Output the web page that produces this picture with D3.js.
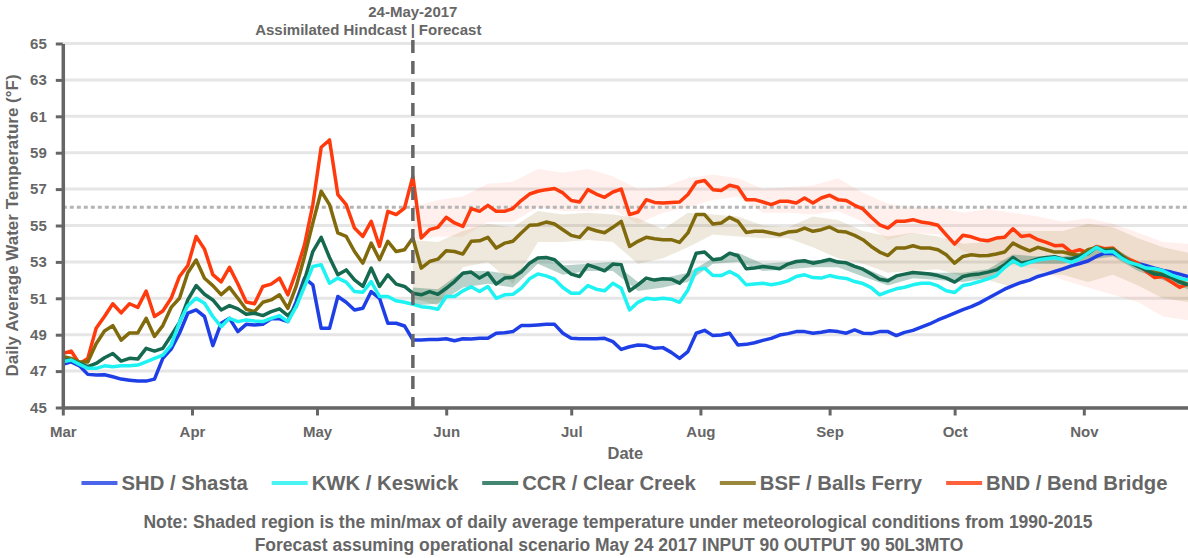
<!DOCTYPE html>
<html>
<head>
<meta charset="utf-8">
<script src="https://cdn.jsdelivr.net/npm/d3@7"></script>
<style>
  body { margin: 0; background: #fff; }
  svg text { font-family: "Liberation Sans", Arial, Helvetica, sans-serif; font-weight: bold; fill: #666; }
</style>
</head>
<body>
<svg id="chart" width="1188" height="558"></svg>
<script>

// ---- data (one value every 2 days from 1-Mar-2017) ----
var startDay = "2017-03-01", endDay = "2017-11-26", forecastDay = "2017-05-24";
var lineStep = 2, bandStep = 6;

var shd = [47.37, 47.51, 47.29, 46.82, 46.78, 46.8, 46.69, 46.56, 46.5, 46.45, 46.45, 46.56, 47.7, 48.21, 49.08, 50.18, 50.36, 50.0, 48.4, 49.63, 49.9, 49.17, 49.57,
           49.53, 49.57, 49.87, 49.87, 49.72, 50.82, 52.11, 51.74, 49.35, 49.35, 51.1, 50.78, 50.36, 50.45, 51.37, 51.0, 49.63, 49.63, 49.48, 48.71, 48.71, 48.73,
           48.73, 48.78, 48.67, 48.78, 48.76, 48.8, 48.8, 49.08, 49.11, 49.17, 49.5, 49.5, 49.53, 49.57, 49.57, 49.08, 48.8, 48.78, 48.78, 48.78, 48.8, 48.62, 48.19,
           48.34, 48.43, 48.4, 48.25, 48.29, 48.03, 47.7, 48.07, 49.08, 49.24, 48.95, 48.98, 49.08, 48.43, 48.47, 48.56, 48.69, 48.8, 48.98, 49.06, 49.17, 49.17,
           49.08, 49.13, 49.22, 49.17, 49.08, 49.26, 49.08, 49.06, 49.17, 49.17, 48.95, 49.13, 49.24, 49.42, 49.59, 49.81, 49.99, 50.18, 50.38, 50.54, 50.75, 51.0,
           51.25, 51.5, 51.7, 51.87, 52.0, 52.2, 52.33, 52.47, 52.62, 52.78, 52.91, 53.05, 53.3, 53.48, 53.46, 53.24, 53.06, 52.91, 52.79, 52.66, 52.53, 52.44, 52.33, 52.2];

var kwk = [47.51, 47.61, 47.37, 47.15, 47.15, 47.29, 47.24, 47.29, 47.29, 47.33, 47.51, 47.7, 47.88, 48.43, 49.68, 50.6, 51.0, 50.73, 50.0, 49.44, 49.9, 49.72, 49.81,
           49.75, 49.72, 49.9, 50.05, 49.72, 50.54, 51.65, 52.75, 52.84, 51.83, 52.11, 51.89, 51.37, 51.33, 51.92, 51.1, 51.1, 50.86, 50.78, 50.67, 50.54, 50.49,
           50.4, 51.1, 51.1, 51.41, 51.63, 51.37, 51.65, 51.0, 51.19, 51.22, 51.55, 52.07, 52.34, 52.23, 52.05, 51.59, 51.28, 51.28, 51.7, 51.5, 51.41, 51.83, 51.55,
           50.36, 50.78, 51.0, 50.95, 51.0, 50.95, 50.78, 51.46, 52.56, 52.66, 52.25, 52.25, 52.47, 52.23, 51.74, 51.79, 51.83, 51.74, 51.83, 51.96, 52.2, 52.29,
           52.14, 52.11, 52.25, 52.14, 52.09, 51.92, 51.81, 51.59, 51.19, 51.37, 51.52, 51.61, 51.74, 51.83, 51.83, 51.68, 51.41, 51.32, 51.7, 51.79, 51.92, 52.07,
           52.25, 52.69, 53.06, 52.8, 52.97, 53.1, 53.17, 53.23, 53.13, 52.97, 53.17, 53.48, 53.8, 53.54, 53.57, 53.21, 52.97, 52.84, 52.66, 52.62, 52.51, 52.29, 52.11, 52.01];

var ccr = [47.61, 47.61, 47.42, 47.24, 47.42, 47.73, 47.97, 47.55, 47.7, 47.66, 48.25, 48.1, 48.25, 48.95, 49.68, 50.91, 51.7, 51.22, 50.91, 50.36, 50.6, 50.42, 50.12,
           50.18, 50.05, 50.27, 50.42, 50.05, 50.54, 52.01, 53.57, 54.35, 53.24, 52.29, 52.56, 52.01, 51.65, 52.66, 51.65, 52.29, 51.78, 51.65, 51.28, 51.19, 51.37,
           51.22, 51.55, 51.92, 52.38, 52.44, 52.11, 52.38, 51.78, 52.11, 52.16, 52.44, 52.93, 53.21, 53.24, 53.12, 52.69, 52.33, 52.2, 52.84, 52.69, 52.51, 52.88, 52.84,
           51.41, 51.74, 52.11, 52.0, 52.07, 52.05, 51.83, 52.29, 53.48, 53.54, 53.12, 53.17, 53.48, 53.34, 52.62, 52.66, 52.75, 52.69, 52.62, 52.88, 53.02, 53.06,
           52.93, 53.02, 53.13, 52.99, 52.95, 52.75, 52.6, 52.33, 52.05, 51.96, 52.23, 52.33, 52.42, 52.38, 52.34, 52.25, 52.11, 51.89, 52.2, 52.29, 52.34, 52.44,
           52.56, 52.84, 53.24, 52.93, 53.02, 53.17, 53.24, 53.28, 53.15, 53.17, 53.3, 53.46, 53.8, 53.61, 53.65, 53.3, 52.97, 52.75, 52.55, 52.33, 52.29, 52.14, 51.89, 51.74];

var bsf = [47.8, 47.7, 47.5, 47.5, 48.5, 49.2, 49.5, 48.7, 49.1, 49.1, 49.9, 48.9, 49.5, 50.5, 51.0, 52.4, 53.1, 52.1, 51.7, 51.2, 51.6, 51.0, 50.4,
           50.27, 50.78, 50.91, 51.19, 50.45, 51.65, 53.3, 55.14, 56.88, 56.15, 54.59, 54.4, 53.57, 52.93, 54.03, 53.12, 54.13, 53.57, 53.67, 54.31, 52.66, 53.02,
           53.15, 53.61, 53.57, 53.43, 54.13, 54.16, 54.35, 53.76, 54.03, 54.13, 54.59, 55.01, 55.04, 55.19, 55.08, 54.77, 54.46, 54.35, 54.86, 54.71, 54.6, 54.9, 55.23,
           53.85, 54.13, 54.35, 54.27, 54.22, 54.22, 54.07, 54.59, 55.6, 55.6, 55.08, 55.14, 55.45, 55.23, 54.62, 54.68, 54.68, 54.59, 54.49, 54.64, 54.68, 54.86,
           54.68, 54.77, 54.92, 54.68, 54.64, 54.46, 54.22, 53.85, 53.54, 53.35, 53.76, 53.76, 53.89, 53.76, 53.76, 53.67, 53.39, 52.93, 53.3, 53.39, 53.34, 53.35,
           53.43, 53.54, 54.03, 53.8, 53.61, 53.8, 53.67, 53.54, 53.54, 53.43, 53.35, 53.67, 53.8, 53.67, 53.72, 53.39, 53.02, 52.84, 52.62, 52.47, 52.33, 52.16, 51.96, 51.74];

var bnd = [47.97, 48.1, 47.4, 47.7, 49.35, 50.0, 50.7, 50.2, 50.7, 50.5, 51.4, 50.0, 50.3, 51.0, 52.2, 52.8, 54.4, 53.7, 52.3, 51.9, 52.7, 51.8, 50.8,
           50.7, 51.65, 51.78, 52.11, 51.19, 52.47, 53.94, 56.15, 59.3, 59.7, 56.7, 56.15, 54.86, 54.4, 55.23, 53.85, 55.78, 55.6, 55.96, 57.7, 54.31, 54.77,
           54.9, 55.45, 55.14, 54.95, 55.93, 55.78, 56.11, 55.78, 55.78, 55.93, 56.37, 56.73, 56.88, 56.97, 57.03, 56.79, 56.37, 56.29, 56.97, 56.73, 56.55, 56.84, 57.0,
           55.6, 55.74, 56.42, 56.27, 56.24, 56.27, 56.29, 56.7, 57.38, 57.47, 56.97, 56.92, 57.21, 57.1, 56.42, 56.42, 56.29, 56.15, 56.33, 56.33, 56.24, 56.51,
           56.24, 56.51, 56.66, 56.42, 56.37, 56.11, 55.91, 55.45, 55.04, 54.86, 55.23, 55.23, 55.32, 55.19, 55.12, 55.01, 54.49, 53.98, 54.46, 54.38, 54.22, 54.16,
           54.31, 54.35, 54.82, 54.4, 54.46, 54.22, 54.07, 53.89, 53.91, 53.54, 53.67, 53.48, 53.85, 53.72, 53.76, 53.35, 53.12, 52.93, 52.47, 52.14, 52.2, 51.89, 51.6, 51.8];

// forecast min/max envelopes, one value every 6 days from 24-May-2017
var bndMax = [56.0, 56.4, 56.6, 57.3, 57.4, 58.1, 57.9, 58.1, 57.7, 57.0, 57.1, 57.6, 57.8, 57.6, 57.0, 57.1, 57.2, 57.6, 56.8, 56.2, 56.0, 56.0, 55.7, 55.9, 55.7, 55.5, 55.2, 55.4, 55.1, 54.6, 54.1, 54.0];
var bndMin = [54.2, 54.4, 54.4, 55.2, 55.2, 56.0, 55.8, 55.8, 55.9, 55.1, 55.7, 56.0, 56.4, 56.6, 55.7, 55.7, 55.6, 55.8, 55.2, 54.2, 54.6, 54.5, 53.6, 53.2, 52.8, 52.6, 52.0, 51.6, 51.2, 50.8, 50.0, 49.8];
var bsfMax = [54.2, 54.1, 54.7, 55.1, 54.9, 55.8, 55.6, 55.7, 55.6, 55.4, 54.8, 55.7, 55.6, 55.5, 55.0, 54.9, 55.5, 55.3, 54.7, 54.4, 54.6, 54.4, 54.0, 54.1, 54.7, 54.7, 54.7, 55.1, 54.9, 54.3, 53.8, 53.5];
var bsfMin = [51.0, 50.6, 52.7, 53.0, 51.8, 54.1, 54.1, 54.2, 54.1, 52.9, 53.2, 53.8, 54.5, 54.4, 54.3, 54.3, 53.8, 53.2, 52.9, 52.4, 52.5, 52.6, 52.2, 52.0, 51.6, 52.3, 52.3, 51.9, 52.3, 51.7, 51.0, 50.8];
var ccrMax = [51.6, 51.5, 52.5, 52.5, 52.3, 53.3, 52.8, 52.9, 53.0, 51.9, 52.1, 52.4, 53.2, 53.5, 52.9, 53.0, 53.1, 53.1, 52.7, 52.1, 52.5, 52.4, 52.4, 52.6, 53.4, 53.3, 53.3, 53.6, 53.8, 53.0, 52.5, 51.9];
var ccrMin = [50.6, 50.7, 51.6, 51.8, 51.6, 52.9, 52.3, 52.5, 52.5, 51.4, 51.6, 51.9, 52.9, 53.0, 52.5, 52.6, 52.7, 52.7, 52.2, 51.7, 52.1, 52.0, 51.9, 52.1, 52.9, 52.9, 52.9, 53.1, 53.3, 52.5, 52.0, 51.5];

var yTicks = [45, 47, 49, 51, 53, 55, 57, 59, 61, 63, 65];
var thresholdF = 56;

var seriesNames = ["SHD / Shasta", "KWK / Keswick", "CCR / Clear Creek", "BSF / Balls Ferry", "BND / Bend Bridge"];
var seriesColors = ["#1f3fe6", "#1ff2f2", "#14694f", "#806a0c", "#ff3a0c"];
var seriesValues = [shd, kwk, ccr, bsf, bnd];
var drawOrder = [0, 4, 3, 2, 1];

var notes = ["Note: Shaded region is the min/max of daily average temperature under meteorological conditions from 1990-2015",
             "Forecast assuming operational scenario May 24 2017 INPUT 90 OUTPUT 90 50L3MTO"];

// ---- setup ----
var parseDay = d3.utcParse("%Y-%m-%d");
var t0 = parseDay(startDay), t1 = parseDay(endDay), tf = parseDay(forecastDay);
var lineDates = d3.utcDay.range(t0, d3.utcDay.offset(t1, 1), lineStep);
var bandDates = d3.utcDay.range(tf, d3.utcDay.offset(t1, 1), bandStep);

var svg = d3.select("#chart");
var axisCol = "#666";

var x = d3.scaleUtc().domain([t0, t1]).range([62.8, 1188]);
var y = d3.scaleLinear().domain([45, 65]).range([407.5, 43.5]);

// gridlines
svg.append("g").selectAll("line").data(yTicks).join("line")
    .attr("x1", x.range()[0]).attr("x2", 1188)
    .attr("y1", d => y(d)).attr("y2", d => y(d))
    .attr("stroke", "#e6e6e6").attr("stroke-width", 3);

// forecast envelopes
var bands = [[bndMin, bndMax, "rgba(255,70,20,0.08)"],
             [bsfMin, bsfMax, "rgba(140,105,20,0.15)"],
             [ccrMin, ccrMax, "rgba(20,105,79,0.3)"]];
bands.forEach(function(b) {
    var area = d3.area()
        .x((d, i) => x(bandDates[i]))
        .y0((d, i) => y(b[0][i]))
        .y1((d, i) => y(b[1][i]));
    svg.append("path").datum(b[0]).attr("d", area).attr("fill", b[2]);
});

// 56F reference line
svg.append("line")
    .attr("x1", x.range()[0]).attr("x2", 1188)
    .attr("y1", y(thresholdF)).attr("y2", y(thresholdF))
    .attr("stroke", "#b5b5b5").attr("stroke-width", 3).attr("stroke-dasharray", "4,3");

// series lines
var line = d3.line().x((d, i) => x(lineDates[i])).y(d => y(d));
drawOrder.forEach(function(k) {
    svg.append("path").datum(seriesValues[k]).attr("d", line)
        .attr("fill", "none").attr("stroke", seriesColors[k])
        .attr("stroke-width", 3.5).attr("stroke-linejoin", "round");
});

// hindcast / forecast split
var xf = x(tf);
svg.append("line")
    .attr("x1", xf).attr("x2", xf).attr("y1", 40).attr("y2", y(45))
    .attr("stroke", axisCol).attr("stroke-width", 3.5).attr("stroke-dasharray", "13,8");
svg.append("text").attr("x", xf).attr("y", 17).attr("text-anchor", "middle")
    .attr("font-size", "15px").text("24-May-2017");
svg.append("text").attr("x", xf - 6).attr("y", 35).attr("text-anchor", "end")
    .attr("font-size", "15px").text("Assimilated Hindcast");
svg.append("text").attr("x", xf).attr("y", 35).attr("text-anchor", "middle")
    .attr("font-size", "15px").text("|");
svg.append("text").attr("x", xf + 6).attr("y", 35).attr("text-anchor", "start")
    .attr("font-size", "15px").text("Forecast");

// axes
var yAxis = svg.append("g")
    .attr("transform", "translate(" + x.range()[0] + ",0)")
    .call(d3.axisLeft(y).tickValues(yTicks).tickSize(7).tickSizeOuter(0).tickPadding(9));
var xAxis = svg.append("g")
    .attr("transform", "translate(0," + y(45) + ")")
    .call(d3.axisBottom(x).ticks(d3.utcMonth.every(1)).tickFormat(d3.utcFormat("%b"))
        .tickSize(8).tickSizeOuter(0).tickPadding(11));
[yAxis, xAxis].forEach(function(g) {
    g.select(".domain").attr("stroke", axisCol).attr("stroke-width", 3.5);
    g.selectAll(".tick line").attr("stroke", axisCol).attr("stroke-width", 3);
    g.selectAll(".tick text").attr("fill", axisCol).attr("font-size", "15px")
        .attr("font-family", "Liberation Sans, Arial, sans-serif").attr("font-weight", "bold");
});

svg.append("text").attr("x", (x.range()[0] + x.range()[1]) / 2).attr("y", 459)
    .attr("text-anchor", "middle").attr("font-size", "16.5px").text("Date");
svg.append("text")
    .attr("transform", "translate(18," + ((y.range()[0] + y.range()[1]) / 2) + ") rotate(-90)")
    .attr("text-anchor", "middle").attr("font-size", "17px")
    .text("Daily Average Water Temperature (\u00b0F)");

// legend
var legend = svg.append("g");
var lx = 0;
seriesNames.forEach(function(name, k) {
    legend.append("line").attr("x1", lx).attr("x2", lx + 36).attr("y1", 0).attr("y2", 0)
        .attr("stroke", seriesColors[k]).attr("stroke-width", 4).attr("opacity", 0.8);
    var t = legend.append("text").attr("x", lx + 40).attr("y", 7)
        .attr("font-size", "20.3px").text(name);
    lx += 40 + t.node().getComputedTextLength() + 24;
});
lx -= 24;
legend.attr("transform", "translate(" + (624.5 - lx / 2) + ",483)");

// footnotes
svg.append("text").attr("x", 618).attr("y", 528).attr("text-anchor", "middle")
    .attr("font-size", "17.5px").text(notes[0]);
svg.append("text").attr("x", 609).attr("y", 551).attr("text-anchor", "middle")
    .attr("font-size", "17.5px").text(notes[1]);

</script>
</body>
</html>
